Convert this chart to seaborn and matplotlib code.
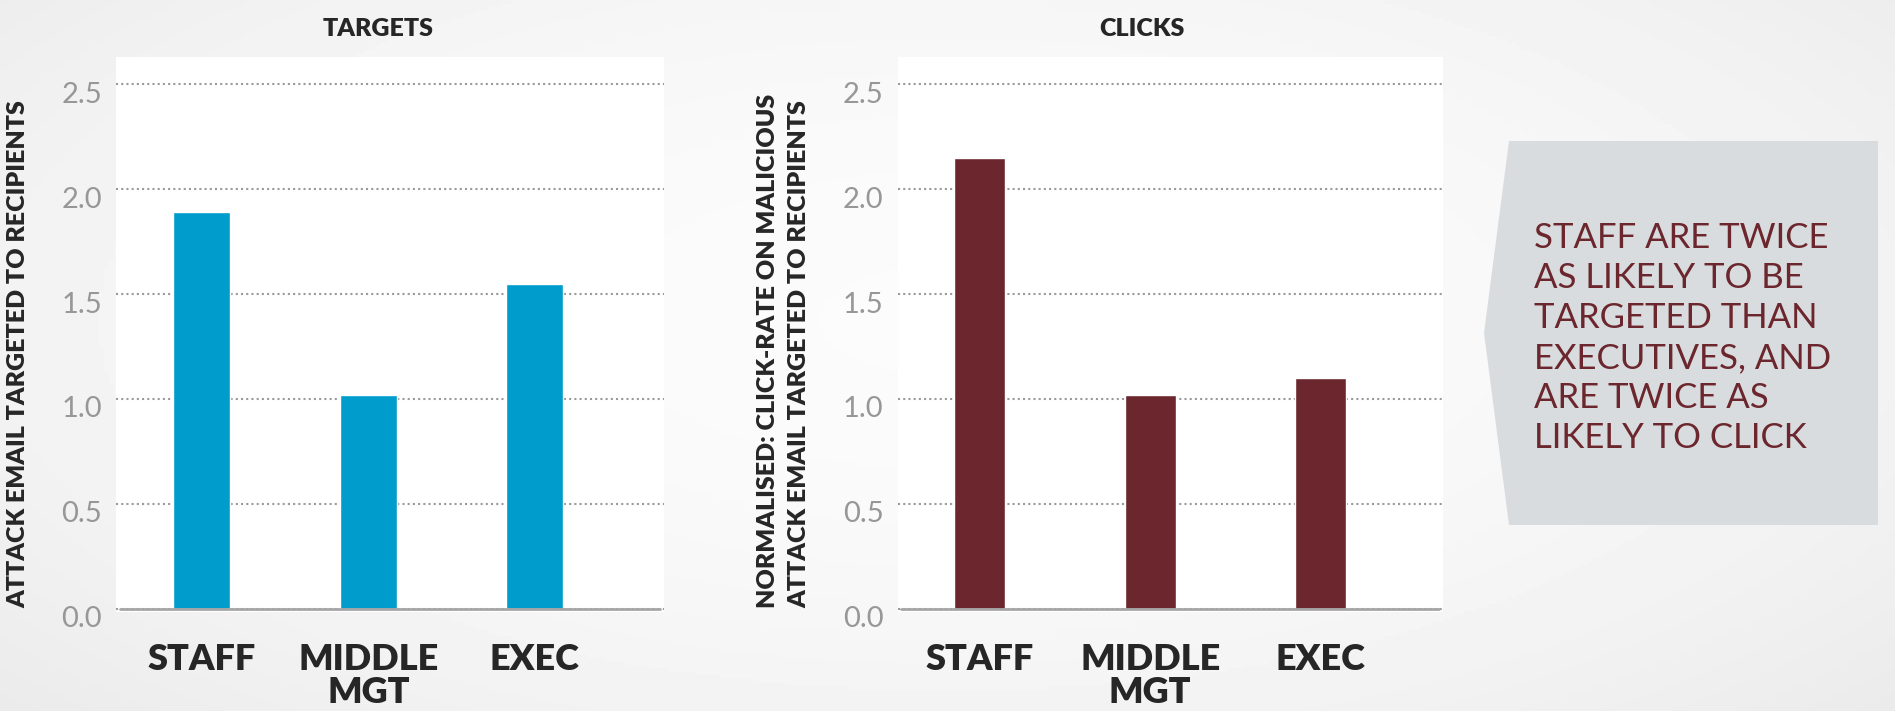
import numpy as np
import seaborn as sns
import matplotlib.pyplot as plt
from matplotlib.patches import Polygon
from matplotlib.transforms import ScaledTranslation

# Chart data
categories = ['STAFF', 'MIDDLE\nMGT', 'EXEC']
targets = [1.89, 1.02, 1.55]
clicks = [2.15, 1.02, 1.10]
y_ticks = [0.0, 0.5, 1.0, 1.5, 2.0, 2.5]
callout = 'STAFF ARE TWICE\nAS LIKELY TO BE\nTARGETED THAN\nEXECUTIVES, AND\nARE TWICE AS\nLIKELY TO CLICK'

sns.set_style('white')
plt.rcParams['font.family'] = ['Lato', 'DejaVu Sans']

fig = plt.figure(figsize=(18.95, 7.11), dpi=100)
fig.patch.set_facecolor('#efefef')

# soft radial background
bg = fig.add_axes([0, 0, 1, 1], zorder=-10)
gx, gy = np.meshgrid(np.linspace(0, 1, 400), np.linspace(0, 1, 200))
r2 = ((gx - 0.5) / 0.6) ** 2 + ((gy - 0.45) / 0.7) ** 2
bg.imshow(np.clip(0.985 - 0.05 * r2, 0.9, 1), cmap='gray', vmin=0, vmax=1,
          aspect='auto', extent=[0, 1, 0, 1])
bg.axis('off')

W, H = 1895, 711
ax1 = fig.add_axes([116 / W, 1 - 612 / H, 548 / W, 555 / H])
ax2 = fig.add_axes([897.5 / W, 1 - 612 / H, 545.5 / W, 555 / H])

sns.barplot(x=categories, y=targets, ax=ax1, color='#009ccb', width=0.34, saturation=1)
sns.barplot(x=categories, y=clicks, ax=ax2, color='#6b272d', width=0.30, saturation=1)
ax1.set_xlim(-0.515, 2.776)
ax2.set_xlim(-0.482, 2.717)

for ax in (ax1, ax2):
    ax.set_facecolor('white')
    ax.set_ylim(-0.016, 2.63)
    ax.set_yticks(y_ticks)
    ax.set_yticklabels([f'{t:.1f}' for t in y_ticks])
    ax.set_xlabel('')
    ax.set_ylabel('')
    sns.despine(ax=ax, left=True, bottom=True)
    ax.set_axisbelow(True)
    ax.yaxis.grid(True, color='#9a9a9a', linestyle=(0, (1, 1.5)), linewidth=1.5)
    ax.xaxis.grid(False)
    ax.axhline(0, xmin=0.007, xmax=0.993, color='#a6a6a6', linewidth=2, zorder=5)
    ax.tick_params(axis='y', length=0, pad=10, labelsize=21, labelcolor='#979797')
    ax.tick_params(axis='x', length=0, pad=22, labelsize=26)
    for lab in ax.get_xticklabels():
        lab.set_fontweight('heavy')
        lab.set_linespacing(1.03)
    for lab in ax.get_yticklabels():
        lab.set_transform(lab.get_transform() + ScaledTranslation(0, -0.08, fig.dpi_scale_trans))

ax1.set_title('TARGETS', x=0.478, pad=15, fontsize=18, fontweight='heavy')
ax2.set_title('CLICKS', x=0.448, pad=15, fontsize=18, fontweight='heavy')

ax1.text(-0.1788, 0.0072, 'ATTACK EMAIL TARGETED TO RECIPIENTS', transform=ax1.transAxes,
         rotation=90, ha='center', va='bottom', fontsize=18, fontweight='heavy')
ax2.text(-0.209, 0.0072, 'NORMALISED: CLICK-RATE ON MALICIOUS\nATTACK EMAIL TARGETED TO RECIPIENTS',
         transform=ax2.transAxes, rotation=90, ha='center', va='bottom', fontsize=18,
         fontweight='heavy', multialignment='left', linespacing=1.55)

# callout box
pts = [(1509, 141), (1878, 141), (1878, 525), (1509, 525), (1484, 333)]
fig.patches.append(Polygon([(x / W, 1 - y / H) for x, y in pts], closed=True,
                           transform=fig.transFigure, facecolor='#d9dcdf', edgecolor='none'))
fig.text(1534 / W, 1 - 222 / H, callout, ha='left', va='top', fontsize=25,
         color='#6b272d', linespacing=1.31)

fig.savefig('out.png', dpi=100, facecolor=fig.get_facecolor())
